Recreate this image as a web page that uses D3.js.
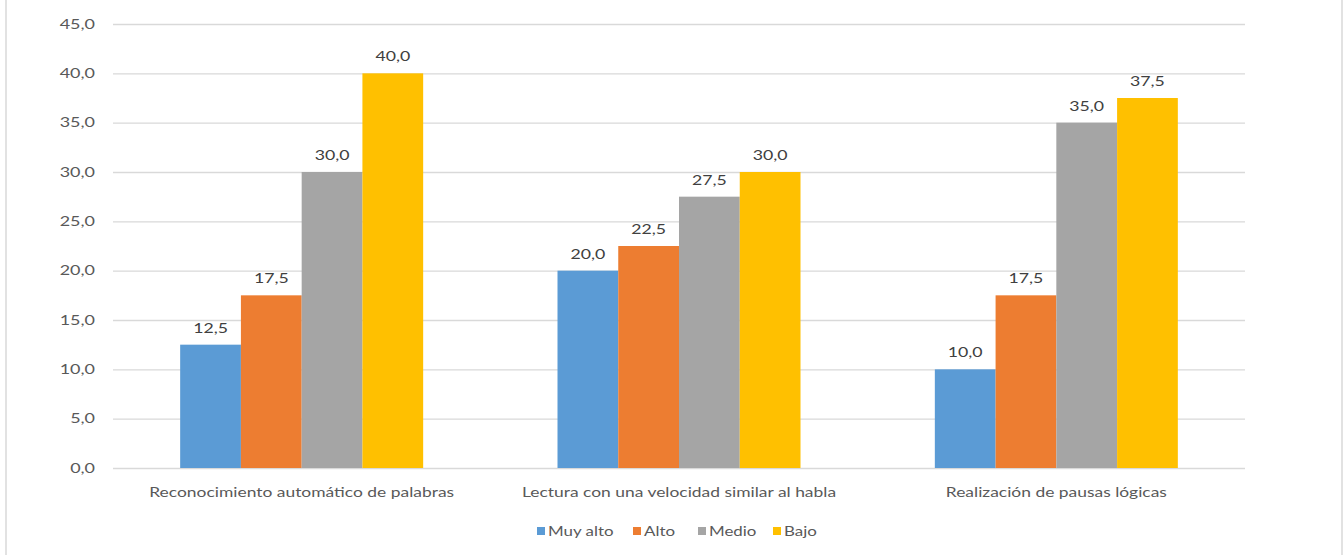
<!DOCTYPE html>
<html><head><meta charset="utf-8">
<script src="https://cdn.jsdelivr.net/npm/d3@7"></script>
<style>body{margin:0;background:#fff;}svg{display:block;font-family:Lato,"Open Sans",sans-serif;}</style>
</head><body><svg id="c" width="1344" height="555"></svg>
<script>
const categories = ["Reconocimiento automático de palabras","Lectura con una velocidad similar al habla","Realización de pausas lógicas"];
const seriesNames = ["Muy alto","Alto","Medio","Bajo"];
const muyAlto = [12.5, 20.0, 10.0];
const alto = [17.5, 22.5, 17.5];
const medio = [30.0, 27.5, 35.0];
const bajo = [40.0, 30.0, 37.5];
const yTicks = [0,5,10,15,20,25,30,35,40,45];
const colors = ["#5b9bd5","#ed7d31","#a5a5a5","#ffc000"];
const seriesValues = [muyAlto, alto, medio, bajo];

function stretch(sel, f){
  sel.each(function(){
    const w = this.getComputedTextLength();
    d3.select(this).attr("textLength", w*f).attr("lengthAdjust","spacingAndGlyphs");
  });
}

const svg = d3.select("#c");
svg.append("rect").attr("x",6).attr("y",-2).attr("width",1336).attr("height",560).attr("fill","#fff").attr("stroke","#d9d9d9").attr("stroke-width",1.5);
const L=113,R=1245,T=24,B=468;
const y = d3.scaleLinear().domain([0,45]).range([B,T]);
const x0 = d3.scaleBand().domain(categories).range([L,R]).paddingInner(0.356).paddingOuter(0.178);
const x1 = d3.scaleBand().domain(seriesNames).range([0,x0.bandwidth()]);
const fmt = v => d3.format(".1f")(v).replace(".",",");

const yAxis = d3.axisLeft(y).tickValues(yTicks).tickSize(-(R-L)).tickFormat(fmt).tickPadding(18);
const ga = svg.append("g").attr("transform",`translate(${L},0)`).call(yAxis);
ga.select(".domain").remove();
ga.selectAll(".tick line").attr("stroke","#d9d9d9").attr("stroke-width",1.3);
ga.selectAll(".tick text").attr("fill","#595959").style("font-size","13px").style("font-family","Lato,sans-serif");
stretch(ga.selectAll(".tick text"), 1.38);

const g = svg.append("g");
categories.forEach((c,ci)=>{
  seriesNames.forEach((s,si)=>{
    const v = seriesValues[si][ci];
    g.append("rect").attr("x",x0(c)+x1(s)).attr("width",x1.bandwidth()).attr("y",y(v)).attr("height",y(0)-y(v)).attr("fill",colors[si]);
    g.append("text").attr("class","vl").attr("x",x0(c)+x1(s)+x1.bandwidth()/2).attr("y",y(v)-12).attr("text-anchor","middle").attr("fill","#404040").style("font-size","13px").text(fmt(v));
  });
});
stretch(g.selectAll("text.vl"), 1.36);

const xAxis = d3.axisBottom(x0).tickSize(0).tickPadding(20);
const gx = svg.append("g").attr("transform",`translate(0,${B})`).call(xAxis);
gx.select(".domain").remove();
gx.selectAll(".tick text").attr("fill","#595959").style("font-size","13px").style("font-family","Lato,sans-serif");
stretch(gx.selectAll(".tick text"), 1.34);

const legX = [537,633,698,773];
const lg = svg.append("g");
seriesNames.forEach((s,i)=>{
  lg.append("rect").attr("x",legX[i]).attr("y",527).attr("width",8).attr("height",8).attr("fill",colors[i]);
  const t = lg.append("text").attr("x",legX[i]+11).attr("y",536).attr("fill","#595959").style("font-size","13px").text(s);
  stretch(t, 1.3);
});
</script></body></html>
